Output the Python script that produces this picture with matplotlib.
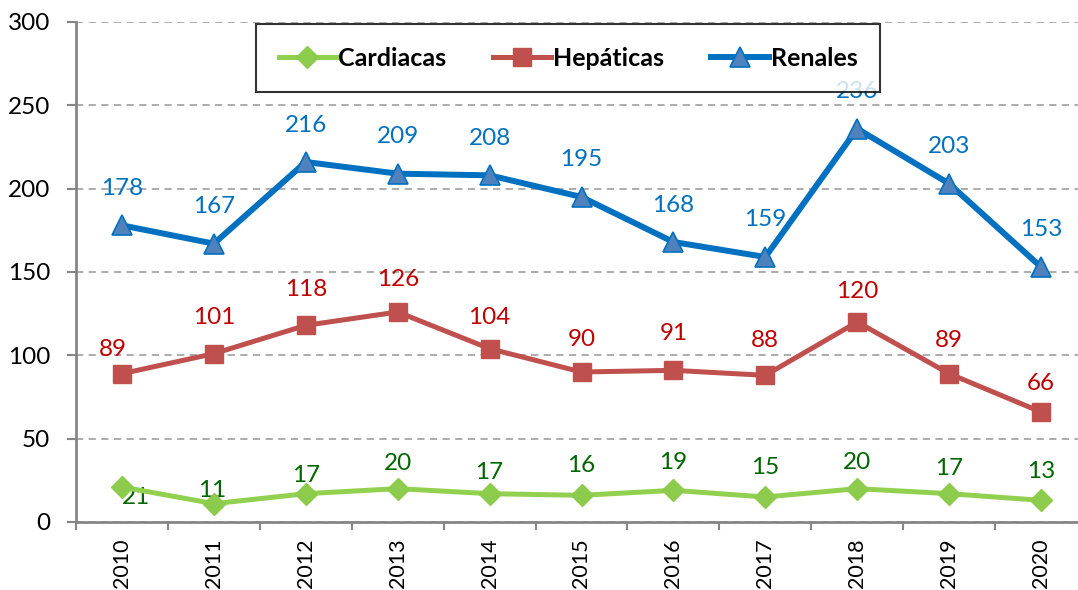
import matplotlib.pyplot as plt
import numpy as np

plt.rcParams['font.family'] = ['Lato', 'DejaVu Sans']

years = ['2010', '2011', '2012', '2013', '2014', '2015', '2016', '2017', '2018', '2019', '2020']
cardiacas = [21, 11, 17, 20, 17, 16, 19, 15, 20, 17, 13]
hepaticas = [89, 101, 118, 126, 104, 90, 91, 88, 120, 89, 66]
renales = [178, 167, 216, 209, 208, 195, 168, 159, 236, 203, 153]

# label offsets in pixels (dx, dy) -- style only
card_off = [(14, -10), (-2, 13), (0, 18), (0, 25), (0, 21), (0, 30), (0, 28), (0, 29), (0, 26), (0, 25), (0, 29)]
hep_off = [(-9, 24), (0, 36), (0, 36), (0, 33), (0, 31), (0, 32), (0, 37), (0, 35), (0, 30), (0, 33), (0, 29)]
ren_off = [(0, 37)] * 11

W, H = 1078, 590
fig = plt.figure(figsize=(W / 100, H / 100), dpi=100)
ax = fig.add_axes([76 / W, (H - 522) / H, 1011 / W, 500 / H])

x = np.arange(len(years))
ax.plot(x, cardiacas, color='#92D050', lw=3.6, marker='D', ms=11,
        mfc='#8CCB4C', mec='#8CCB4C', label='Cardiacas', zorder=3)
ax.plot(x, hepaticas, color='#C0504D', lw=3.6, marker='s', ms=13,
        mfc='#C0504D', mec='#C0504D', label='Hepáticas', zorder=3)
ax.plot(x, renales, color='#0070C0', lw=4.3, marker='^', ms=14,
        mfc='#4F81BD', mec='#0070C0', mew=1.2, label='Renales', zorder=3)

for vals, offs, col in [(cardiacas, card_off, '#006600'),
                        (hepaticas, hep_off, '#C00000'),
                        (renales, ren_off, '#0070C0')]:
    for i, v in enumerate(vals):
        ax.annotate(str(v), (i, v), xytext=offs[i], textcoords='offset pixels',
                    ha='center', va='center', fontsize=17.5, color=col, zorder=2)

ax.set_xlim(-0.5, 10.5)
ax.set_ylim(0, 300)
ax.set_yticks(range(0, 301, 50))
ax.yaxis.grid(True, ls=(0, (4, 3)), color='#A6A6A6', lw=1.3)
ax.set_axisbelow(True)

ax.set_xticks(x)
ax.set_xticklabels(years, rotation=90, fontsize=15.5)
ax.set_xticks(np.arange(-0.5, 11, 1), minor=True)
ax.tick_params(axis='x', which='major', length=0, pad=12)
ax.tick_params(axis='x', which='minor', length=6, color='#868686', width=1.5, direction='out')
ax.tick_params(axis='y', length=6.5, color='#868686', width=1.5, labelsize=17.5, pad=12)

for s in ['top', 'right']:
    ax.spines[s].set_visible(False)
for s in ['left', 'bottom']:
    ax.spines[s].set_color('#868686')
    ax.spines[s].set_linewidth(2)

leg = fig.legend(loc='upper left', bbox_to_anchor=(256 / W, 1 - 24 / H, 624 / W, 0.0),
                 mode='expand', ncol=3,
                 frameon=True, fancybox=False, edgecolor='black',
                 prop={'weight': 'bold', 'size': 18}, handlelength=2.3,
                 handletextpad=0.08, borderpad=0.9, borderaxespad=0)
leg.get_frame().set_linewidth(1.5)
leg.set_zorder(10)

fig.savefig('out.png', dpi=100)
